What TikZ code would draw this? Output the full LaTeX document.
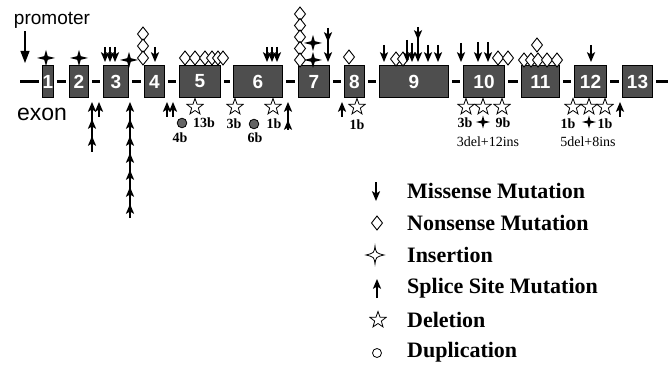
\documentclass[tikz,border=0pt]{standalone}
\usepackage{fontspec}
\setmainfont{Liberation Serif}
\setsansfont{Liberation Sans}
\usepackage{tikz}
\usetikzlibrary{positioning,arrows.meta}
\usepackage{xcolor}
\definecolor{exonfill}{RGB}{78,78,78}
\definecolor{dupfill}{RGB}{100,100,100}

\tikzset{
  exonbox/.style={draw=black,fill=exonfill,line width=1.3pt,minimum height=32pt,inner sep=0pt,
    text=white,font=\sffamily\bfseries\fontsize{19}{19}\selectfont},
  backbone/.style={line width=3pt},
  shaft/.style={line width=1.1pt},
  lbl/.style={font=\bfseries\fontsize{14}{14}\selectfont,inner sep=0pt},
  note/.style={font=\fontsize{14}{14}\selectfont,inner sep=0pt},
  legtext/.style={anchor=west,font=\bfseries\fontsize{22}{22}\selectfont,inner sep=0pt},
  mhead/.pic={\fill (0,0) -- (-4.2,-10) -- (0,-7.5) -- (4.2,-10) -- cycle;},
  shead/.pic={\fill (0,0) -- (-4.2,10) -- (0,7.5) -- (4.2,10) -- cycle;},
  nonsense/.pic={\draw[fill=white,line width=0.9pt] (0,-7) -- (5.5,0) -- (0,7) -- (-5.5,0) -- cycle;},
  insertion/.pic={\fill (-9,0) -- (-1.8,-1.8) -- (0,-8) -- (1.8,-1.8) -- (9,0) -- (1.8,1.8) -- (0,8) -- (-1.8,1.8) -- cycle;},
  deletion/.pic={\draw[fill=white,line width=0.8pt] (-90:8.5) -- (-54:3.5) -- (-18:8.5) -- (18:3.5) -- (54:8.5)
    -- (90:3.5) -- (126:8.5) -- (162:3.5) -- (198:8.5) -- (234:3.5) -- cycle;},
  duplication/.pic={\draw[fill=dupfill,line width=0.8pt] (0,0) circle (4.8);}
}

\begin{document}
\begin{tikzpicture}[x=1pt,y=-1pt]
  \useasboundingbox (0,0) rectangle (668,366);

  % --- exons ---
  \foreach \n/\xl/\xr in {1/43/53,2/69/89,3/103/129,4/144/165,5/179/221,6/233/283,7/298/330,
                          8/344/365,9/379/449,10/463/505,11/521/560,12/574/607,13/622/653}{
    \node[exonbox,minimum width={(\xr-\xl-1)*1pt}] (e\n) at ({(\xl+\xr)/2},81.5) {\n};
  }

  % --- backbone ---
  \coordinate (lstart) at (20,81.5);
  \coordinate (lend) at (668,81.5);
  \draw[backbone] (lstart) -- ([xshift=-3pt]e1.west);
  \foreach \a in {1,...,12}{
    \pgfmathtruncatemacro\b{\a+1}
    \draw[backbone] ([xshift=3pt]e\a.east) -- ([xshift=-3pt]e\b.west);
  }
  \draw[backbone] ([xshift=3pt]e13.east) -- (lend);

  % --- promoter / exon labels ---
  \node[font=\sffamily\fontsize{19}{19}\selectfont,inner sep=0pt] (prom) at (52,20) {promoter};
  \coordinate (promtip) at (25,63);
  \draw[line width=1.1pt,-{Triangle[width=9pt,length=12pt]}] (promtip |- prom.south) ++(0,3) -- (promtip);
  \node[font=\sffamily\fontsize{23}{23}\selectfont,inner sep=0pt] (exlbl) at (42,114) {exon};

  % --- nonsense (above) ---
  \foreach \x/\y in {143/34,143/46,143/58, 185/58,195/58,205/58,212/58,218/58,223/58,
                     300/14,300/25.5,300/37,300/48.5,300/60, 349/57, 396/59,403/59,
                     498/58,508/58, 537/45,524/60,531/60,538/60,547/60,557/60}{
    \pic at (\x,\y) {nonsense};
  }

  % --- missense (above) ---
  \foreach \x/\t in {105/47,110/47,115/47, 155/47, 267/47,272/47,277/47, 328/28,
                     384/45,407/40,412/43,418/27,428/45,438/45, 461/43,478/42,488/42, 591/45}{
    \draw[shaft] (\x,\t) -- (\x,56);
    \pic at (\x,62) {mhead};
  }
  \pic at (328,42) {mhead};
  \pic at (418,40) {mhead};

  % --- insertions ---
  \foreach \x/\y in {46/58,79/58,129/60,313/43,313/60}{
    \pic at (\x,\y) {insertion};
  }
  \pic[scale=0.8] at (483,122) {insertion};
  \pic[scale=0.8] at (589,122) {insertion};

  % --- splice site (below) ---
  \foreach \x/\b in {99/117,167/117,173/117,342/117,620/117}{
    \draw[shaft] (\x,\b) -- (\x,108);
    \pic at (\x,102) {shead};
  }
  \draw[shaft] (92,152) -- (92,108);
  \foreach \t in {102,119,136} \pic at (92,\t) {shead};
  \draw[shaft] (130,218) -- (130,108);
  \foreach \t in {102,119,...,204} \pic at (130,\t) {shead};
  \draw[shaft] (288,130) -- (288,108);
  \foreach \t in {102,120} \pic at (288,\t) {shead};

  % --- deletions / duplications ---
  \foreach \x in {195,235,273,357,466,483,502,573,589,605}{
    \pic at (\x,107) {deletion};
  }
  \pic at (182,123) {duplication};
  \pic at (254,124) {duplication};

  % --- size labels ---
  \node[lbl] (d4b) at (180,138) {4b};
  \node[lbl] (d13b) at (204,123) {13b};
  \node[lbl] (d3b) at (234,124) {3b};
  \node[lbl] (d6b) at (255,138) {6b};
  \node[lbl] (d1b) at (274,124) {1b};
  \node[lbl] (d8b) at (357,125) {1b};
  \node[lbl] (d10a) at (465,123) {3b};
  \node[lbl] (d10b) at (503,123) {9b};
  \node[lbl] (d12a) at (568,124) {1b};
  \node[lbl] (d12b) at (605,124) {1b};
  \node[note] (n10) at (488,142) {3del+12ins};
  \node[note] (n12) at (588,142) {5del+8ins};

  % --- legend ---
  \node[legtext] (lmis) at (407,191) {Missense Mutation};
  \node[legtext] (lnon) at (407,223) {Nonsense Mutation};
  \node[legtext] (lins) at (407,255) {Insertion};
  \node[legtext] (lspl) at (407,288) {Splice Site Mutation};
  \node[legtext] (ldel) at (407,320) {Deletion};
  \node[legtext] (ldup) at (407,352) {Duplication};

  \draw[shaft] (376,182) -- (376,195);
  \pic at (376,201) {mhead};
  \pic at (377,223) {nonsense};
  \draw[line width=0.8pt,fill=white] (366,255) .. controls (374,253) .. (375,246)
    .. controls (376,253) .. (384,255) .. controls (376,257) .. (375,264)
    .. controls (374,257) .. (366,255) -- cycle;
  \draw[shaft] (377,298) -- (377,285);
  \pic at (377,279) {shead};
  \pic at (378,320) {deletion};
  \draw[line width=0.8pt,fill=white] (377,353) circle (4.5);

\end{tikzpicture}
\end{document}
